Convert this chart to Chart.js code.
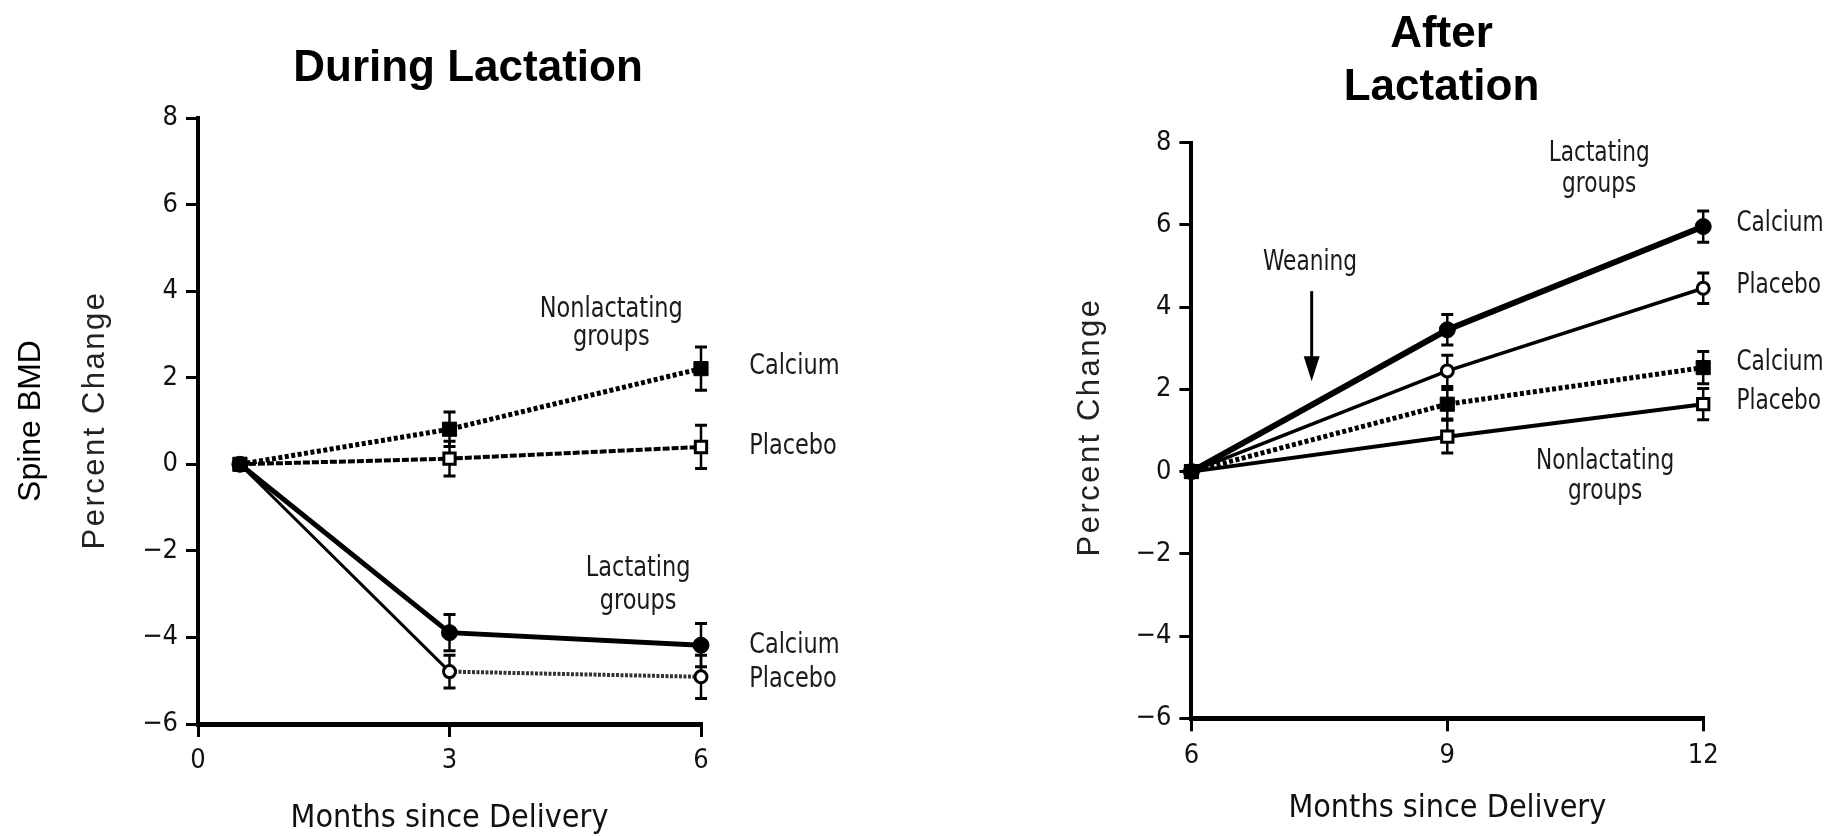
<!DOCTYPE html>
<html>
<head>
<meta charset="utf-8">
<script src="https://cdn.jsdelivr.net/npm/chart.js@4/dist/chart.umd.min.js"></script>
<style>
  html, body { margin: 0; padding: 0; background: #fff; overflow: hidden; }
  #wrap { position: relative; width: 1829px; height: 836px; }
  canvas { position: absolute; top: 0; }
  #during { left: 0; }
  #after { left: 915px; }
</style>
</head>
<body>
<div id="wrap">
  <canvas id="during" width="915" height="836"></canvas>
  <canvas id="after" width="914" height="836"></canvas>
</div>
<script>
// ---- Spine BMD, percent change from baseline ----
// During lactation (0.5 to 6 months)
const duringMonths = [0.5, 3, 6];
const duringLactCalcium = [0, -3.89, -4.18];
const duringLactCalciumSE = [0.1, 0.42, 0.5];
const duringLactPlacebo = [0, -4.79, -4.91];
const duringLactPlaceboSE = [0.1, 0.38, 0.5];
const duringNonCalcium = [0, 0.81, 2.21];
const duringNonCalciumSE = [0.1, 0.4, 0.5];
const duringNonPlacebo = [0, 0.13, 0.4];
const duringNonPlaceboSE = [0.1, 0.4, 0.5];

// After lactation (6 to 12 months)
const afterMonths = [6, 9, 12];
const afterLactCalcium = [0, 3.45, 5.96];
const afterLactCalciumSE = [0, 0.37, 0.38];
const afterLactPlacebo = [0, 2.45, 4.46];
const afterLactPlaceboSE = [0, 0.38, 0.37];
const afterNonCalcium = [0, 1.64, 2.53];
const afterNonCalciumSE = [0, 0.36, 0.39];
const afterNonPlacebo = [0, 0.85, 1.64];
const afterNonPlaceboSE = [0, 0.4, 0.38];

// Axis ticks
const percentTicks = [-6, -4, -2, 0, 2, 4, 6, 8];
const duringMonthTicks = [0, 3, 6];
const afterMonthTicks = [6, 9, 12];

const FONT = "'Liberation Sans', Arial, sans-serif";
const NARROW = "'DejaVu Sans Condensed', 'Liberation Sans', sans-serif";
Chart.defaults.font.family = NARROW;
Chart.defaults.color = '#111';

const pts = (xs, ys) => xs.map((x, i) => ({ x: x, y: ys[i] }));
const minusLabel = v => (v < 0 ? '\u2212' + Math.abs(v) : String(v));

// Vertical error bars drawn under the markers
const errorBars = {
  id: 'errorBars',
  beforeDatasetsDraw(chart) {
    const ctx = chart.ctx, xs = chart.scales.x, ys = chart.scales.y;
    ctx.save();
    ctx.strokeStyle = '#000';
    chart.data.datasets.forEach(ds => {
      if (!ds.errors) return;
      ds.data.forEach((p, i) => {
        const e = ds.errors[i];
        if (!e) return;
        const x = xs.getPixelForValue(p.x);
        const yt = ys.getPixelForValue(p.y + e);
        const yb = ys.getPixelForValue(p.y - e);
        ctx.lineWidth = 2.5;
        ctx.beginPath(); ctx.moveTo(x, yt); ctx.lineTo(x, yb); ctx.stroke();
        ctx.lineWidth = 3;
        ctx.beginPath();
        ctx.moveTo(x - 6, yt); ctx.lineTo(x + 6, yt);
        ctx.moveTo(x - 6, yb); ctx.lineTo(x + 6, yb);
        ctx.stroke();
      });
    });
    ctx.restore();
  }
};

// Titles, rotated axis titles, group labels and the weaning arrow
const textLayer = {
  id: 'textLayer',
  afterDraw(chart, args, opts) {
    const ctx = chart.ctx, xs = chart.scales.x, ys = chart.scales.y;
    (opts.items || []).forEach(it => {
      ctx.save();
      ctx.fillStyle = it.color || '#1a1a1a';
      ctx.font = (it.weight || 'normal') + ' ' + it.size + 'px ' + (it.family || NARROW);
      ctx.textAlign = it.align || 'center';
      ctx.textBaseline = 'middle';
      if (it.spacing) ctx.letterSpacing = it.spacing + 'px';
      const x = it.data ? xs.getPixelForValue(it.x) : it.x;
      const y = it.data ? ys.getPixelForValue(it.y) : it.y;
      ctx.translate(x, y);
      if (it.rotate) ctx.rotate(-Math.PI / 2);
      if (it.squeeze) ctx.scale(it.squeeze, 1);
      ctx.fillText(it.text, 0, 0);
      ctx.restore();
    });
    if (opts.arrow) {
      const a = opts.arrow;
      const x = xs.getPixelForValue(a.x);
      const y1 = ys.getPixelForValue(a.from), y2 = ys.getPixelForValue(a.to);
      ctx.save();
      ctx.strokeStyle = '#000'; ctx.fillStyle = '#000'; ctx.lineWidth = 3;
      ctx.beginPath(); ctx.moveTo(x, y1); ctx.lineTo(x, y2 - 20); ctx.stroke();
      ctx.beginPath(); ctx.moveTo(x - 8, y2 - 25); ctx.lineTo(x + 8, y2 - 25); ctx.lineTo(x, y2); ctx.closePath(); ctx.fill();
      ctx.restore();
    }
  }
};

function filledCircle(label, data, errors, width, dash) {
  return { label, data, errors, borderColor: '#000', borderWidth: width, borderDash: dash || [],
    pointStyle: 'circle', pointRadius: 8, pointBackgroundColor: '#000', pointBorderColor: '#000', pointBorderWidth: 1 };
}
function openCircle(label, data, errors, width, dash) {
  return { label, data, errors, borderColor: '#000', borderWidth: width, borderDash: dash || [],
    pointStyle: 'circle', pointRadius: 6, pointBackgroundColor: '#fff', pointBorderColor: '#000', pointBorderWidth: 3 };
}
function filledSquare(label, data, errors, width, dash) {
  return { label, data, errors, borderColor: '#000', borderWidth: width, borderDash: dash || [],
    pointStyle: 'rect', pointRadius: 10, pointBackgroundColor: '#000', pointBorderColor: '#000', pointBorderWidth: 1 };
}
function openSquare(label, data, errors, width, dash) {
  return { label, data, errors, borderColor: '#000', borderWidth: width, borderDash: dash || [],
    pointStyle: 'rect', pointRadius: 8, pointBackgroundColor: '#fff', pointBorderColor: '#000', pointBorderWidth: 3 };
}

function makeScales(monthTicks, xMin, xMax, xHeight) {
  return {
    x: {
      type: 'linear', min: xMin, max: xMax,
      afterBuildTicks: s => { s.ticks = monthTicks.map(v => ({ value: v })); },
      afterFit: s => { s.height = xHeight; },
      grid: { drawOnChartArea: false, drawTicks: true, tickLength: 13, color: '#000', lineWidth: 3 },
      border: { display: true, color: '#000', width: 5 },
      ticks: { padding: 8, font: { size: 27 }, color: '#111', maxRotation: 0, callback: minusLabel },
      title: { display: true, text: 'Months since Delivery', color: '#111',
               font: { size: 32, lineHeight: 1 }, padding: { top: 0, bottom: 0 } }
    },
    y: {
      type: 'linear', min: -6, max: 8,
      afterBuildTicks: s => { s.ticks = percentTicks.map(v => ({ value: v })); },
      afterFit: s => { s.width = 60; },
      grid: { drawOnChartArea: false, drawTicks: true, tickLength: 12, color: '#000', lineWidth: 3 },
      border: { display: true, color: '#000', width: 4 },
      ticks: { padding: 8, font: { size: 27 }, color: '#111', callback: minusLabel }
    }
  };
}

const common = {
  responsive: false,
  animation: false,
  events: [],
  elements: { line: { tension: 0 } },
};

// Group labels use a narrowed face
const L = (text, x, y, size, align) => ({ text, data: true, x, y, size, align, squeeze: 0.86 });

// During lactation
new Chart(document.getElementById('during'), {
  type: 'line',
  data: {
    datasets: [
      filledCircle('Lactating, calcium', pts(duringMonths, duringLactCalcium), duringLactCalciumSE, 5),
      Object.assign(openCircle('Lactating, placebo', pts(duringMonths, duringLactPlacebo), duringLactPlaceboSE, 3), {
        segment: {
          borderDash: c => (c.p0DataIndex === 1 ? [3, 1.5] : undefined),
          borderWidth: c => (c.p0DataIndex === 1 ? 4 : undefined),
          borderColor: c => (c.p0DataIndex === 1 ? '#333' : undefined)
        }
      }),
      filledSquare('Nonlactating, calcium', pts(duringMonths, duringNonCalcium), duringNonCalciumSE, 5, [4, 2.5]),
      openSquare('Nonlactating, placebo', pts(duringMonths, duringNonPlacebo), duringNonPlaceboSE, 4, [7, 2])
    ]
  },
  options: Object.assign({}, common, {
    clip: false,
    layout: { padding: { left: 138, right: 214, top: 118, bottom: 1 } },
    scales: makeScales(duringMonthTicks, 0, 6, 111),
    plugins: {
      legend: { display: false },
      tooltip: { enabled: false },
      textLayer: {
        items: [
          { text: 'During Lactation', x: 468, y: 69, size: 44, weight: 'bold', color: '#000', family: FONT },
          { text: 'Spine BMD', x: 31, y: 421, size: 32, rotate: true, color: '#000', family: FONT },
          { text: 'Percent Change', x: 95, y: 420, size: 31, spacing: 2.5, rotate: true, color: '#222', family: FONT },
          L('Nonlactating', 4.93, 3.575, 29),
          L('groups', 4.93, 2.92, 29),
          L('Calcium', 6.575, 2.26, 29, 'left'),
          L('Placebo', 6.575, 0.42, 29, 'left'),
          L('Lactating', 5.25, -2.41, 29),
          L('groups', 5.25, -3.16, 29),
          L('Calcium', 6.575, -4.19, 29, 'left'),
          L('Placebo', 6.575, -4.97, 29, 'left')
        ]
      }
    }
  }),
  plugins: [errorBars, textLayer]
});

// After lactation
new Chart(document.getElementById('after'), {
  type: 'line',
  data: {
    datasets: [
      filledCircle('Lactating, calcium', pts(afterMonths, afterLactCalcium), afterLactCalciumSE, 6),
      openCircle('Lactating, placebo', pts(afterMonths, afterLactPlacebo), afterLactPlaceboSE, 3.5),
      filledSquare('Nonlactating, calcium', pts(afterMonths, afterNonCalcium), afterNonCalciumSE, 5, [4, 2.5]),
      openSquare('Nonlactating, placebo', pts(afterMonths, afterNonPlacebo), afterNonPlaceboSE, 4)
    ]
  },
  options: Object.assign({}, common, {
    clip: false,
    layout: { padding: { left: 216.4, right: 125.8, top: 142.7, bottom: 11 } },
    scales: makeScales(afterMonthTicks, 6, 12, 106.7),
    plugins: {
      legend: { display: false },
      tooltip: { enabled: false },
      textLayer: {
        items: [
          { text: 'After', x: 526.5, y: 35, size: 44, weight: 'bold', color: '#000', family: FONT },
          { text: 'Lactation', x: 526.5, y: 88, size: 44, weight: 'bold', color: '#000', family: FONT },
          { text: 'Percent Change', x: 175, y: 427, size: 31, spacing: 2.5, rotate: true, color: '#222', family: FONT },
          L('Lactating', 10.78, 7.725, 28),
          L('groups', 10.78, 6.99, 28),
          L('Calcium', 12.39, 6.02, 28, 'left'),
          L('Placebo', 12.39, 4.52, 28, 'left'),
          L('Calcium', 12.39, 2.66, 28, 'left'),
          L('Placebo', 12.39, 1.69, 28, 'left'),
          L('Nonlactating', 10.85, 0.25, 28),
          L('groups', 10.85, -0.48, 28),
          L('Weaning', 7.39, 5.07, 28)
        ],
        arrow: { x: 7.41, from: 4.39, to: 2.2 }
      }
    }
  }),
  plugins: [errorBars, textLayer]
});
</script>
</body>
</html>
